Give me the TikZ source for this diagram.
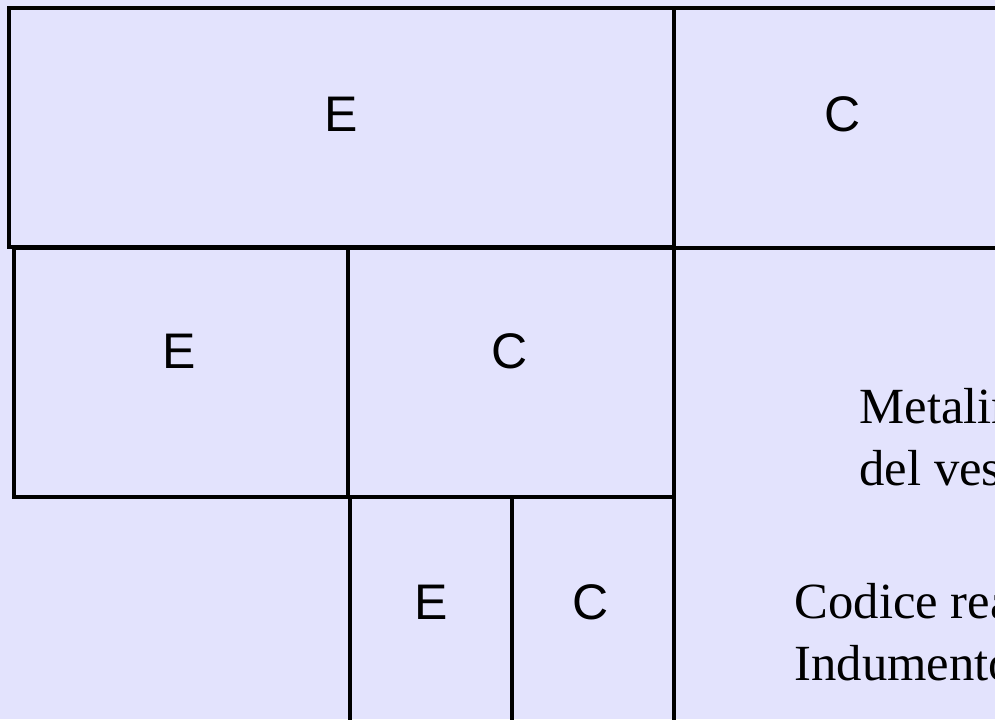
\documentclass[tikz,border=0pt]{standalone}
\usepackage{fontspec}
\setmainfont{Liberation Serif}
\setsansfont{Liberation Sans}
\definecolor{fondo}{RGB}{227,227,253}
\begin{document}
\begin{tikzpicture}[x=0.75pt,y=-0.75pt,line width=2.3pt,
  lettera/.style={font=\sffamily\fontsize{37.5}{45}\selectfont,inner sep=0pt},
  testo/.style={font=\rmfamily\fontsize{38}{45}\selectfont,inner sep=0pt,anchor=base west}]
  \useasboundingbox (0,0) rectangle (995,719);
  \clip (0,0) rectangle (995,719);
  \fill[fondo] (0,0) rectangle (995,719);
  % Primo livello
  \draw (9,8) rectangle (674,247);
  \draw (674,8) rectangle (1010,248);
  % Secondo livello
  \draw (14,248) rectangle (348,497);
  \draw (348,248) rectangle (674,497);
  \draw (674,248) rectangle (1010,740);
  % Terzo livello
  \draw (350,497) rectangle (512,740);
  \draw (512,497) rectangle (674,740);
  % Espressione e contenuto
  \node[lettera] (e1) at (341,114) {E};
  \node[lettera] (c1) at (843,114) {C};
  \node[lettera] (e2) at (179,351) {E};
  \node[lettera] (c2) at (510,351) {C};
  \node[lettera] (e3) at (431,602) {E};
  \node[lettera] (c3) at (591,602) {C};
  % Didascalie
  \node[testo] (meta1) at (858,423) {Metalinguaggio};
  \node[testo] (meta2) at (858,485) {del vestito};
  \node[testo] (cod1) at (793,618) {Codice reale};
  \node[testo] (cod2) at (793,680) {Indumento};
\end{tikzpicture}
\end{document}
